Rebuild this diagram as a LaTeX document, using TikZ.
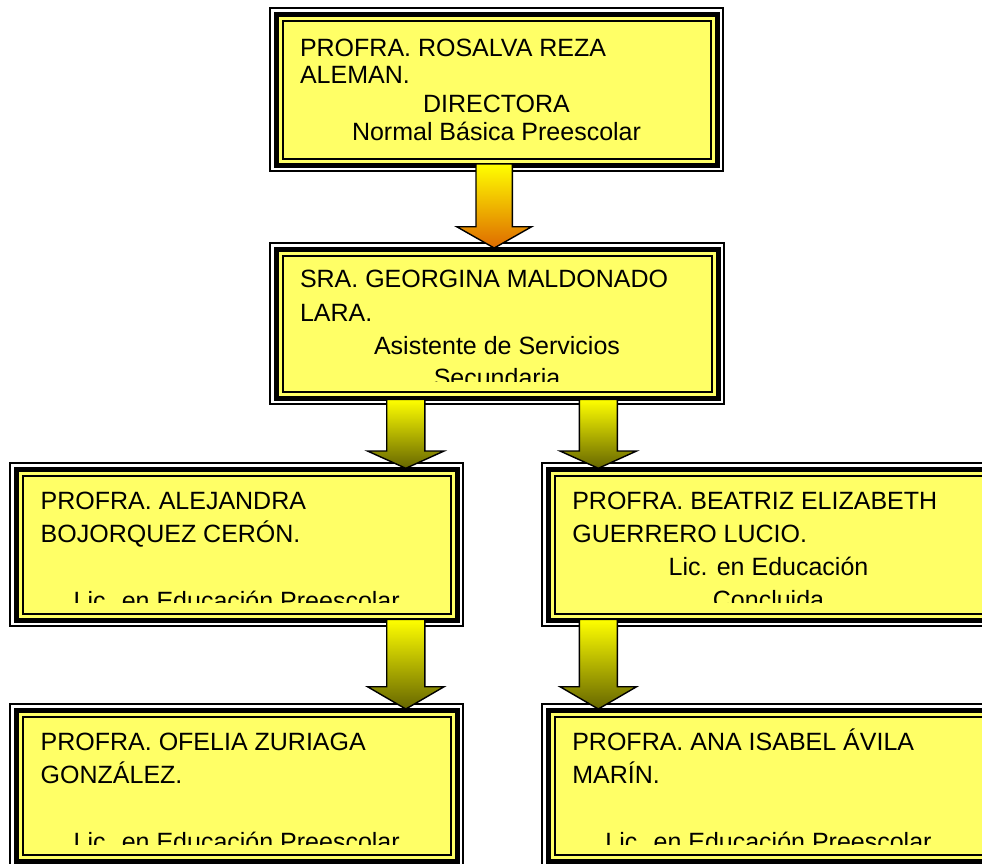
\documentclass[tikz,border=0pt]{standalone}
\usepackage{fontspec}
\setmainfont{Liberation Sans}
\usetikzlibrary{calc}
\definecolor{boxyellow}{RGB}{255,255,102}
\definecolor{arrowtop}{RGB}{255,255,0}
\definecolor{arrowolive}{RGB}{102,102,0}
\definecolor{arroworange}{RGB}{222,106,0}
\newcommand\orgbox[5]{%
  \node[inner sep=0pt, outer sep=0pt, minimum width=#4pt, minimum height=#5pt, anchor=north west, fill=white] (#1) at (#2,#3) {};
  \draw[line width=2pt] ($(#1.north west)+(1,1)$) rectangle ($(#1.south east)+(-1,-1)$);
  \fill[black] ($(#1.north west)+(4.5,4.5)$) rectangle ($(#1.south east)+(-4.5,-4.5)$);
  \fill[boxyellow] ($(#1.north west)+(9.5,9.5)$) rectangle ($(#1.south east)+(-9.5,-9.5)$);
  \draw[line width=2pt] ($(#1.north west)+(13.5,13.5)$) rectangle ($(#1.south east)+(-13.5,-13.5)$);
}
% start coord, tip coord, shaft half width, head half width, head length, bottom colour
\newcommand\fatarr[6]{%
  \path[draw=black, line width=1.4pt, line join=miter, top color=arrowtop, bottom color=#6]
    ($(#1)+(-#3,0)$) -- ($(#2)+(-#3,-#5)$) -- ($(#2)+(-#4,-#5)$) -- (#2)
    -- ($(#2)+(#4,-#5)$) -- ($(#2)+(#3,-#5)$) -- ($(#1)+(#3,0)$) -- cycle;
}
\tikzset{
  lbl/.style={font=\fontsize{25}{28}\selectfont, inner sep=0pt, outer sep=0pt, anchor=base west},
  clbl/.style={font=\fontsize{25}{28}\selectfont, inner sep=0pt, outer sep=0pt, anchor=base}
}
\begin{document}
\begin{tikzpicture}[x=1pt, y=-1pt]
\useasboundingbox (0,0) rectangle (982,863);
\clip (0,0) rectangle (982,863);
\fill[white] (0,0) rectangle (982,863);

% boxes
\orgbox{b1}{269}{7}{455}{165}
\orgbox{b2}{269}{242}{456}{163}
\orgbox{b3}{9}{462}{455}{165}
\orgbox{b4}{541}{462}{455}{165}
\orgbox{b5}{9}{703}{455}{165}
\orgbox{b6}{541}{703}{455}{165}

% texts box 1
\node[lbl] (t1a) at (300,56) {PROFRA. ROSALVA REZA};
\node[lbl] (t1b) at (300,83.5) {ALEMAN.};
\node[clbl] (t1c) at (496.5,112.5) {DIRECTORA};
\node[clbl] (t1d) at (496.5,140) {Normal Básica Preescolar};

% box 2
\begin{scope}
\clip (269,242) rectangle (725,381.7);
\node[lbl] (t2a) at (300,287.3) {SRA. GEORGINA MALDONADO};
\node[lbl] (t2b) at (300,321.7) {LARA.};
\node[clbl] (t2c) at (497,354) {Asistente de Servicios};
\node[clbl] (t2d) at (497,386.5) {Secundaria};
\end{scope}

% box 3
\begin{scope}
\clip (9,462) rectangle (464,602);
\node[lbl] (t3a) at (40.7,509) {PROFRA. ALEJANDRA};
\node[lbl] (t3b) at (40.7,542.3) {BOJORQUEZ CERÓN.};
\node[clbl] (t3c) at (236.7,609) {Lic. en Educación Preescolar};
\end{scope}

% box 4
\begin{scope}
\clip (541,462) rectangle (996,602);
\node[lbl] (t4a) at (572.3,509) {PROFRA. BEATRIZ ELIZABETH};
\node[lbl] (t4b) at (572.3,542.3) {GUERRERO LUCIO.};
\node[clbl] (t4c) at (768.5,575) {Lic. en Educación};
\node[clbl] (t4d) at (768.5,608) {Concluida};
\end{scope}

% box 5
\begin{scope}
\clip (9,703) rectangle (464,844.3);
\node[lbl] (t5a) at (40.7,750) {PROFRA. OFELIA ZURIAGA};
\node[lbl] (t5b) at (40.7,783.3) {GONZÁLEZ.};
\node[clbl] (t5c) at (236.7,850) {Lic. en Educación Preescolar};
\end{scope}

% box 6
\begin{scope}
\clip (541,703) rectangle (996,844.3);
\node[lbl] (t6a) at (572.3,750) {PROFRA. ANA ISABEL ÁVILA};
\node[lbl] (t6b) at (572.3,783.3) {MARÍN.};
\node[clbl] (t6c) at (768.5,850) {Lic. en Educación Preescolar};
\end{scope}

% arrows
\coordinate (a1s) at (494.2,164);
\coordinate (a1t) at (494.2,248);
\coordinate (a2s) at (405.8,399.3);
\coordinate (a2t) at (405.8,468.3);
\coordinate (a3s) at (598.3,399.3);
\coordinate (a3t) at (598.3,468.3);
\coordinate (a4s) at (405.8,619.3);
\coordinate (a4t) at (405.8,709);
\coordinate (a5s) at (598.3,619.3);
\coordinate (a5t) at (598.3,709);
\fatarr{a1s}{a1t}{18.2}{37.5}{21.3}{arroworange}
\fatarr{a2s}{a2t}{19.1}{38.3}{17.3}{arrowolive}
\fatarr{a3s}{a3t}{19}{38.3}{17.3}{arrowolive}
\fatarr{a4s}{a4t}{19.1}{38.3}{22.3}{arrowolive}
\fatarr{a5s}{a5t}{19}{38.3}{22.3}{arrowolive}
\end{tikzpicture}
\end{document}
